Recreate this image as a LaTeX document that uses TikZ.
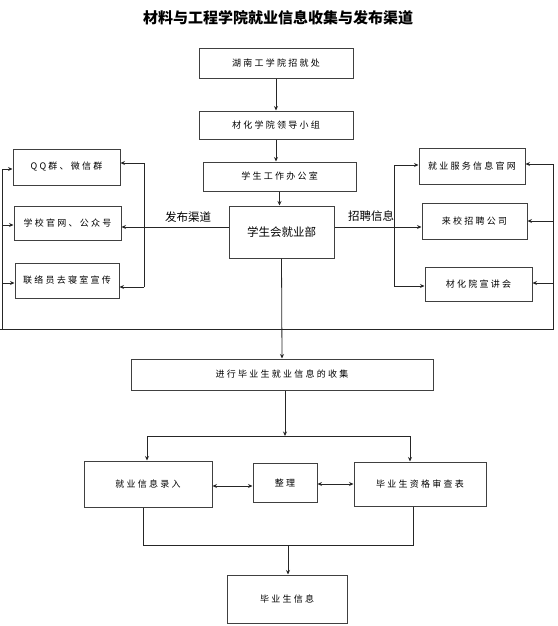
\documentclass[tikz,border=0pt]{standalone}
\usepackage{fontspec}
\setmainfont{Noto Sans CJK SC}
\newfontfamily\boxfont[LetterSpace=25]{Noto Sans CJK SC}
\usetikzlibrary{arrows.meta}
\begin{document}
\begin{tikzpicture}[x=1pt,y=-1pt,
  box/.style={draw=black!75,line width=1pt,rectangle,inner sep=0pt,font=\boxfont\fontsize{9}{10}\selectfont},
  ln/.style={draw=black!85,line width=0.8pt},
  arr/.style={ln,-{Stealth[length=4.5pt,width=4pt]}},
  arr2/.style={ln,{Stealth[length=4.5pt,width=4pt]}-{Stealth[length=4.5pt,width=4pt]}},
  lab/.style={inner sep=0pt,font=\fontsize{11.5}{12}\selectfont}]
\useasboundingbox (0,0) rectangle (557,626);
\node[font=\bfseries\fontsize{15}{17}\selectfont] (title) at (278,18) {材料与工程学院就业信息收集与发布渠道};
% top chain
\node[box,minimum width=154pt,minimum height=29pt] (t1) at (276,63.5) {湖南工学院招就处};
\node[box,minimum width=154pt,minimum height=28pt] (t2) at (276,125) {材化学院领导小组};
\node[box,minimum width=153pt,minimum height=29pt] (t3) at (279.5,176.5) {学生工作办公室};
\node[box,minimum width=105pt,minimum height=52pt,font=\fontsize{11.5}{12}\selectfont] (t4) at (281.5,232) {学生会就业部};
% left boxes
\node[box,minimum width=107pt,minimum height=36pt] (qq) at (66.5,167) {QQ群、微信群};
\node[box,minimum width=107pt,minimum height=34pt] (xx) at (67.5,223) {学校官网、公众号};
\node[box,minimum width=104pt,minimum height=35pt] (ll) at (67,280.5) {联络员去寝室宣传};
% right boxes
\node[box,minimum width=106pt,minimum height=36pt] (r1) at (472,166) {就业服务信息官网};
\node[box,minimum width=105pt,minimum height=36pt] (r2) at (474.5,221) {来校招聘公司};
\node[box,minimum width=107pt,minimum height=34pt] (r3) at (478.5,284) {材化院宣讲会};
% lower part
\node[box,minimum width=302pt,minimum height=31pt] (c1) at (282,374.5) {进行毕业生就业信息的收集};
\node[box,minimum width=128pt,minimum height=46pt] (b1) at (148,484) {就业信息录入};
\node[box,minimum width=64pt,minimum height=39pt] (b2) at (285,482.5) {整理};
\node[box,minimum width=132pt,minimum height=44pt] (b3) at (420,484) {毕业生资格审查表};
\node[box,minimum width=120pt,minimum height=48pt] (f) at (287,599) {毕业生信息};
% labels
\node[lab] (lab1) at (188,217) {发布渠道};
\node[lab] (lab2) at (371,216) {招聘信息};
% coordinates
\coordinate (lbT) at (144,163);
\coordinate (lbB) at (144,287);
\coordinate (rbT) at (394,165);
\coordinate (rbB) at (394,286);
\coordinate (lbus1) at (2,169);
\coordinate (lbus2) at (2,225);
\coordinate (lbus3) at (2,283);
\coordinate (lbus4) at (2,329);
\coordinate (hl) at (0,329);
\coordinate (rbus4) at (553,329);
\coordinate (rbus1) at (553,164);
\coordinate (rbus2) at (553,221);
\coordinate (rbus3) at (553,283);
\coordinate (barM) at (285,436);
\coordinate (barL) at (147,436);
\coordinate (barR) at (410,436);
\coordinate (bl) at (143,545);
\coordinate (br) at (413,545);
\coordinate (bm) at (288,545);
% top chain connectors
\draw[arr] (t1.south) -- (t2.north);
\draw[arr] (t2.south) -- (t2.south |- t3.north);
\draw[arr] (t3.south) -- (t3.south |- t4.north);
% publish channels
\draw[arr] ([yshift=5pt]t4.west) -- (xx.east |- 0,227);
\draw[ln] (lbT) -- (lbB);
\draw[arr] (lbT) -- (qq.east |- lbT);
\draw[arr] (lbB) -- (ll.east |- lbB);
% recruiting info
\draw[arr] ([yshift=5pt]t4.east) -- (r2.west |- 0,227);
\draw[ln] (rbT) -- (rbB);
\draw[arr] (rbT) -- (r1.west |- rbT);
\draw[arr] (rbB) -- (r3.west |- rbB);
% outer bus
\draw[ln] (lbus1) -- (lbus4);
\draw[arr] (lbus1) -- (qq.west |- lbus1);
\draw[arr] (lbus2) -- (xx.west |- lbus2);
\draw[arr] (lbus3) -- (ll.west |- lbus3);
\draw[ln] (hl) -- (rbus4) -- (rbus1);
\draw[arr] (rbus1) -- (r1.east |- rbus1);
\draw[arr] (rbus2) -- (r2.east |- rbus2);
\draw[arr] (rbus3) -- (r3.east |- rbus3);
% main down
\draw[arr] (t4.south) -- (c1.north);
\draw[arr] (c1.south -| barM) -- (barM);
\draw[ln] (barL) -- (barR);
\draw[arr] (barL) -- (b1.north -| barL);
\draw[arr] (barR) -- (b3.north -| barR);
\draw[arr2] (b1.east |- 0,486) -- (b2.west |- 0,486);
\draw[arr2] (b2.east |- 0,484) -- (b3.west |- 0,484);
\draw[ln] (b1.south -| bl) -- (bl) -- (br) -- (b3.south -| br);
\draw[arr] (bm) -- (f.north -| bm);
\end{tikzpicture}
\end{document}
